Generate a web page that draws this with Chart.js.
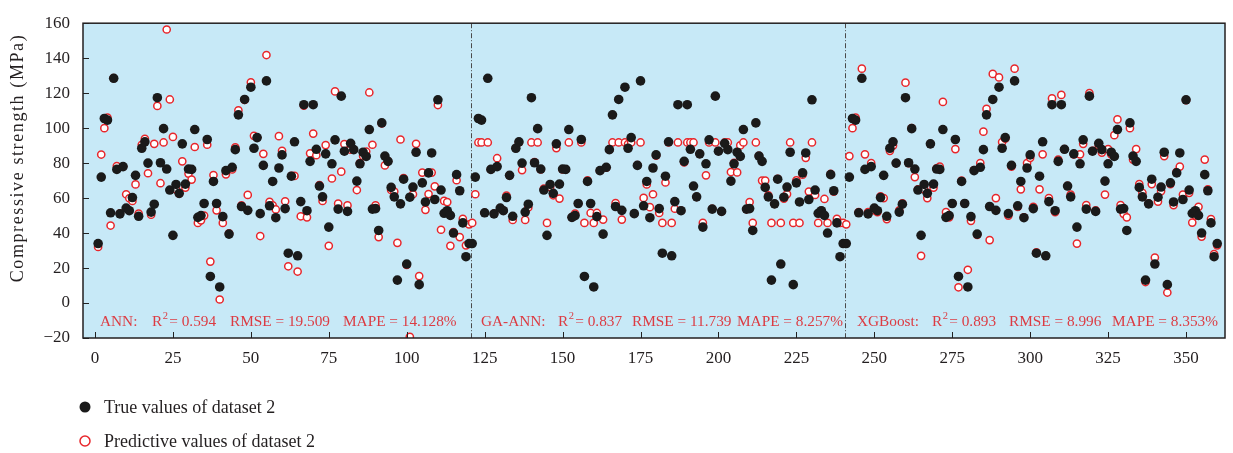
<!DOCTYPE html>
<html>
<head>
<meta charset="utf-8">
<script src="https://cdn.jsdelivr.net/npm/chart.js@4.4.0/dist/chart.umd.min.js"></script>
<style>
  html, body { margin: 0; padding: 0; background: #fff; }
  #wrap { width: 1233px; height: 453px; }
</style>
</head>
<body>
<div id="wrap"><canvas id="chart" width="1233" height="453"></canvas></div>
<script>
// measured values of dataset 2 (120 samples, same in each panel)
const trueValues = [34, 72, 105.5, 104.6, 51.6, 128.5, 76.4, 51, 78, 54.3,
    52.8, 60.3, 73, 49.6, 88.5, 92.2, 80, 52, 56.5, 117.4,
    80.2, 99.7, 76.6, 64.6, 38.7, 67.8, 62.7, 91, 68, 76.6,
    76.4, 99.2, 49, 50, 56.9, 93.5, 15.2, 69.5, 56.9, 9.2,
    49.4, 75.7, 39.4, 77.6, 87.7, 107.6, 55.2, 116.4, 53, 123.4,
    88.5, 94.6, 51.1, 78.7, 127, 55.6, 69.5, 48.8, 77.2, 84.7,
    54, 28.5, 72.5, 92.2, 27, 58, 113.4, 52.8, 81, 113.4,
    87.9, 66.9, 60.7, 85.3, 43.4, 79.6, 93.3, 53.7, 118.3, 86.8,
    52.4, 91.3, 87.7, 69.7, 79.6, 86.2, 83.8, 99.2, 53.7, 54,
    41.5, 103, 84, 81, 66.1, 60.7, 13.1, 56.7, 70.8, 22.3,
    60.5, 66.3, 86.2, 10.5, 68.7, 57.8, 74.4, 85.8, 59.2, 116.2,
    64.6, 51.3, 52.8, 50.1, 40, 73.4, 64.2, 45.8, 26.5, 34];

const annPredicted = [32.1, 84.9, 100, 106, 44.3, 128.6, 78.3, 51.3, 78, 62.2,
    59.9, 58.4, 67.8, 51.1, 90.5, 93.9, 74.2, 50.5, 91, 112.7,
    68.5, 91.8, 156.4, 116.4, 95, 65, 62.5, 81, 66, 74,
    70.6, 89.2, 45.8, 47.3, 50, 90.5, 23.7, 73.2, 53, 2,
    45.8, 73.6, 39.9, 76.4, 89, 110.2, 55.8, 116.2, 61.8, 126.2,
    95.6, 94.6, 38.3, 85.3, 141.8, 57.8, 55.8, 53.5, 95.4, 87,
    58.2, 21, 72.7, 72.7, 18, 49.6, 112.9, 49, 85.6, 96.9,
    84.5, 67.4, 58.4, 90.3, 32.7, 71.2, 121, 56.9, 75.1, 90.9,
    55.8, 87.7, 87.7, 64.6, 80, 84.1, 86.6, 120.4, 90.5, 55.8,
    37.7, 102.7, 78.7, 81.1, 64.6, 63.7, 34.4, 93.5, 71.4, 21.8,
    -19.3, 62.2, 91, 15.4, 74.6, 53.3, 62.3, 74.6, 66.7, 113.2,
    41.9, 58.4, 57.7, 32.7, 40.6, 70.2, 37.7, 48.1, 33, 45];

const gaAnnPredicted = [45.8, 62.2, 91.8, 91.8, 51.6, 91.8, 76.4, 51.1, 82.8, 54.3,
    52.8, 61.4, 73, 47.5, 88.5, 91.8, 76, 47.5, 54.6, 91.8,
    80.6, 91.8, 76.4, 65.4, 45.8, 66.3, 61.6, 88.6, 59.7, 76.4,
    76.4, 91.8, 49, 51.1, 56.9, 91.8, 45.8, 70.2, 51.5, 45.8,
    51.5, 75.7, 47.7, 77.4, 87.7, 91.8, 57.1, 91.8, 47.7, 91.8,
    90.9, 91.8, 51.1, 78.9, 91.8, 60.1, 67.8, 54.8, 62.2, 84.3,
    51.5, 45.8, 68.9, 91.8, 45.8, 53.9, 91.8, 52.8, 80.4, 91.8,
    91.8, 91.8, 60.7, 85.3, 45.8, 73, 91.8, 53.9, 91.8, 87,
    52.4, 91.8, 91.8, 74.9, 80.2, 74.7, 90.1, 91.8, 53.7, 57.7,
    45.8, 91.8, 84.1, 70, 70, 61.6, 45.8, 56.7, 71, 45.8,
    59.7, 62.3, 91.8, 45.8, 70.2, 45.8, 73.4, 83, 63.7, 91.8,
    61.8, 45.8, 52.8, 59.5, 45.8, 73.8, 63.7, 48.1, 45.8, 45.8];

const xgbPredicted = [45, 84, 100, 106, 52, 134, 85, 52, 80, 53,
    52, 61, 60, 48, 87, 90, 80, 53, 57, 126,
    80, 100, 72, 65, 27, 65, 60, 91, 66, 77,
    78, 115, 52, 49, 57, 88, 9, 70, 57, 19,
    47, 76, 39, 80, 98, 111, 36, 131, 60, 129,
    92, 94, 50, 78, 134, 55, 65, 49, 80, 83,
    55, 29, 65, 85, 27, 60, 117, 52, 82, 119,
    88, 67, 62, 85, 34, 85, 91, 56, 120, 87,
    53, 90, 86, 62, 88, 85, 96, 105, 56, 51,
    49, 100, 82, 88, 68, 63, 12, 57, 68, 26,
    58, 64, 84, 6, 68, 56, 75, 78, 62, 116,
    63, 46, 50, 55, 38, 82, 65, 48, 28, 33];

const xTicks = [0, 25, 50, 75, 100, 125, 150, 175, 200, 225, 250, 275, 300, 325, 350];
const yTicks = [-20, 0, 20, 40, 60, 80, 100, 120, 140, 160];
const panelSize = 120;
const panelStats = [
    ["ANN:", "0.594", "19.509", "14.128%"],
    ["GA-ANN:", "0.837", "11.739", "8.257%"],
    ["XGBoost:", "0.893", "8.996", "8.353%"]
];

const SERIF = "'Liberation Serif', 'DejaVu Serif', serif";
const RED = "#e8262b";
const TEXT_RED = "#dc3b42";

function toPoints(values, panel) {
    return values.map((v, k) => ({ x: panel * panelSize + k + 1, y: v }));
}

const truePoints = [].concat(toPoints(trueValues, 0), toPoints(trueValues, 1), toPoints(trueValues, 2));
const predPoints = [].concat(toPoints(annPredicted, 0), toPoints(gaAnnPredicted, 1), toPoints(xgbPredicted, 2));

const decorPlugin = {
    id: "decor",
    beforeDraw(chart) {
        const { ctx, chartArea: a } = chart;
        ctx.save();
        ctx.fillStyle = "#ffffff";
        ctx.fillRect(0, 0, chart.width, chart.height);
        ctx.fillStyle = "#c7e9f7";
        ctx.fillRect(a.left, a.top, a.right - a.left, a.bottom - a.top);
        ctx.restore();
    },
    beforeDatasetsDraw(chart) {
        const { ctx, chartArea: a, scales } = chart;
        ctx.save();
        ctx.strokeStyle = "#4a4a4a";
        ctx.lineWidth = 1;
        ctx.setLineDash([5, 2, 1, 2]);
        [120.5, 240.5].forEach(v => {
            const px = Math.round(scales.x.getPixelForValue(v)) + 0.5;
            ctx.beginPath();
            ctx.moveTo(px, a.top);
            ctx.lineTo(px, a.bottom);
            ctx.stroke();
        });
        ctx.restore();
    },
    afterDraw(chart) {
        const { ctx, chartArea: a, scales } = chart;
        ctx.save();
        // ticks inside the frame
        ctx.strokeStyle = "#222";
        ctx.lineWidth = 1;
        xTicks.forEach(v => {
            const px = Math.round(scales.x.getPixelForValue(v)) + 0.5;
            ctx.beginPath();
            ctx.moveTo(px, a.bottom);
            ctx.lineTo(px, a.bottom - 6);
            ctx.stroke();
        });
        yTicks.forEach(v => {
            const py = Math.round(scales.y.getPixelForValue(v)) + 0.5;
            ctx.beginPath();
            ctx.moveTo(a.left, py);
            ctx.lineTo(a.left + 6, py);
            ctx.stroke();
        });
        // frame
        ctx.lineWidth = 1.5;
        ctx.strokeStyle = "#231f20";
        ctx.strokeRect(a.left, a.top, a.right - a.left, a.bottom - a.top);

        // y axis title
        ctx.fillStyle = "#231f20";
        ctx.font = "18px " + SERIF;
        ctx.letterSpacing = "1.6px";
        ctx.textAlign = "center";
        ctx.textBaseline = "middle";
        ctx.translate(18, 158);
        ctx.rotate(-Math.PI / 2);
        ctx.fillText("Compressive strength (MPa)", 0, 0);
        ctx.restore();

        // statistics of each model
        ctx.save();
        ctx.fillStyle = TEXT_RED;
        ctx.textBaseline = "alphabetic";
        ctx.textAlign = "left";
        const starts = [100, 481, 857];
        const offsets = [[0, 52, 130, 243], [0, 77, 151, 256], [0, 75, 152, 255]];
        const base = a.bottom - 12;
        panelStats.forEach((s, p) => {
            const x0 = starts[p];
            const o = offsets[p];
            ctx.font = "15.3px " + SERIF;
            ctx.fillText(s[0], x0 + o[0], base);
            ctx.fillText("R", x0 + o[1], base);
            const rW = ctx.measureText("R").width;
            ctx.font = "10.5px " + SERIF;
            ctx.fillText("2", x0 + o[1] + rW + 0.5, base - 7);
            ctx.font = "15.3px " + SERIF;
            ctx.fillText("= " + s[1], x0 + o[1] + rW + 7, base);
            ctx.fillText("RMSE = " + s[2], x0 + o[2], base);
            ctx.fillText("MAPE = " + s[3], x0 + o[3], base);
        });
        ctx.restore();

        // legend
        ctx.save();
        ctx.fillStyle = "#1a1a1a";
        ctx.beginPath();
        ctx.arc(85, 407, 5.5, 0, Math.PI * 2);
        ctx.fill();
        ctx.fillStyle = "#ffffff";
        ctx.strokeStyle = RED;
        ctx.lineWidth = 1.5;
        ctx.beginPath();
        ctx.arc(85, 441, 5, 0, Math.PI * 2);
        ctx.fill();
        ctx.stroke();
        ctx.fillStyle = "#231f20";
        ctx.font = "18px " + SERIF;
        ctx.textBaseline = "middle";
        ctx.fillText("True values of dataset 2", 104, 408);
        ctx.fillText("Predictive values of dataset 2", 104, 442);
        ctx.restore();
    }
};

const ctx = document.getElementById("chart");
const chart = new Chart(ctx, {
    type: "scatter",
    data: {
        datasets: [{
            label: "True values of dataset 2",
            data: truePoints,
            pointRadius: 4.8,
            pointBackgroundColor: "#1a1a1a",
            pointBorderColor: "#1a1a1a",
            pointBorderWidth: 0
        },
        {
            label: "Predictive values of dataset 2",
            data: predPoints,
            pointRadius: 3.6,
            pointBackgroundColor: "#ffffff",
            pointBorderColor: RED,
            pointBorderWidth: 1.5
        }]
    },
    options: {
        responsive: false,
        animation: false,
        devicePixelRatio: 1,
        layout: {
            padding: { top: 18, right: 8, bottom: 0, left: 0 }
        },
        scales: {
            x: {
                type: "linear",
                min: -3.85,
                max: 362.5,
                afterBuildTicks: function(scale) {
                    scale.ticks = xTicks.map(v => ({ value: v }));
                },
                afterFit: function(scale) {
                    scale.height = 115;
                },
                grid: { display: false, drawTicks: false },
                border: { display: false },
                ticks: {
                    padding: 10,
                    maxRotation: 0,
                    color: "#231f20",
                    font: { family: SERIF, size: 17 }
                }
            },
            y: {
                min: -20,
                max: 160,
                afterBuildTicks: function(scale) {
                    scale.ticks = yTicks.map(v => ({ value: v }));
                },
                afterFit: function(scale) {
                    scale.width = 83;
                },
                grid: { display: false, drawTicks: false },
                border: { display: false },
                ticks: {
                    padding: 13,
                    color: "#231f20",
                    font: { family: SERIF, size: 17 },
                    callback: function(value) {
                        return value < 0 ? "\u2212" + Math.abs(value) : String(value);
                    }
                }
            }
        },
        plugins: {
            legend: { display: false },
            tooltip: { enabled: false }
        }
    },
    plugins: [decorPlugin]
});
</script>
</body>
</html>
